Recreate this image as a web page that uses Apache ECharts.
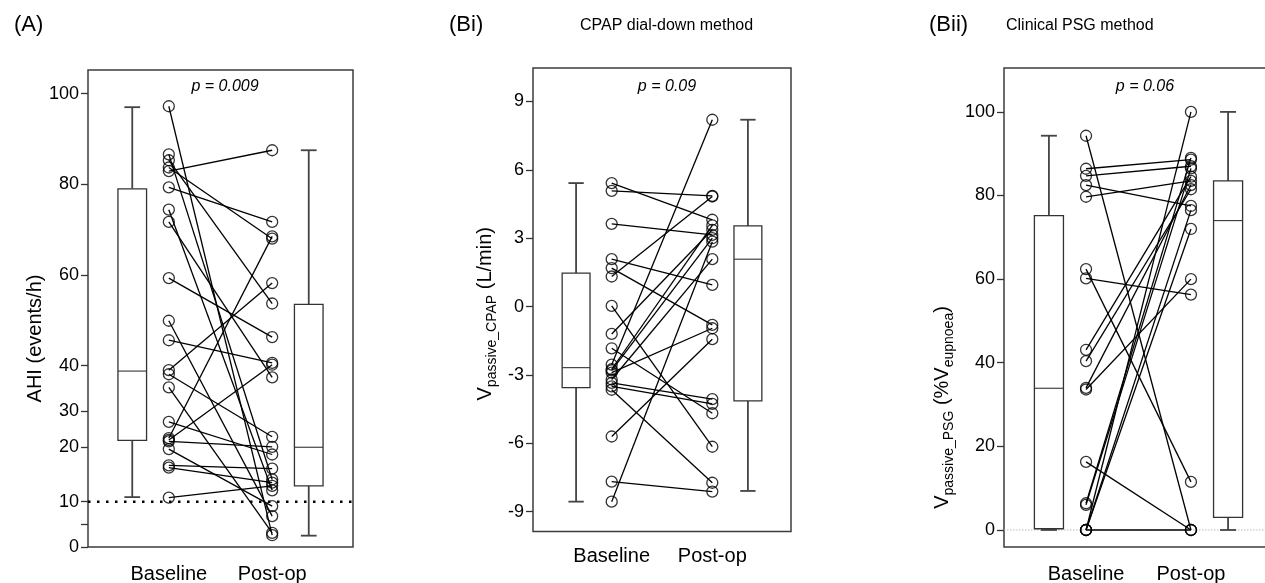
<!DOCTYPE html>
<html><head><meta charset="utf-8">
<script src="https://cdn.jsdelivr.net/npm/echarts@6/dist/echarts.min.js"></script>
<style>html,body{margin:0;padding:0;background:#fff}#c{width:1265px;height:583px}</style>
</head><body><div id="c"></div>
<script>
// ---------------- data ----------------
const categories = ['Baseline', 'Post-op'];

// Panel A: AHI (events/h), paired by index
const ahiBaseline = [97.2, 86.6, 85.3, 83.7, 82.9, 79.3, 74.4, 71.7, 59.3, 49.9, 45.6, 39.0, 38.1, 35.2, 27.6, 24.0, 23.6, 23.3, 21.6, 18.0, 17.5, 10.9];
const ahiPostop   = [2.6, 14.9, 53.7, 68.0, 87.5, 71.7, 12.5, 37.4, 46.3, 6.8, 40.6, 58.2, 24.3, 3.1, 20.4, 68.5, 40.2, 22.1, 9.0, 17.3, 14.2, 13.5];
// box: [min, Q1, median, Q3, max]
const ahiBoxBaseline = [11, 23.5, 38.8, 79, 97];
const ahiBoxPostop   = [2.5, 13.5, 22, 53.5, 87.5];
const ahiTickValues = [0, 5, 10, 22, 30, 40, 60, 80, 100];
const ahiTickLabels = ['0', '', '10', '20', '30', '40', '60', '80', '100'];
const ahiThreshold = 10;
const ahiP = 'p = 0.009';

// Panel Bi: V passive CPAP (L/min)
const cpapBaseline = [5.42, 5.08, 3.63, 2.08, 1.69, 1.32, 0.03, -1.2, -1.83, -2.55, -2.75, -2.8, -2.9, -3.2, -3.35, -3.5, -3.65, -5.7, -7.68, -8.56];
const cpapPostop   = [3.81, 4.86, 3.15, 0.95, -0.8, 4.83, -6.15, 3.37, -4.68, 8.2, 3.56, 3.0, -0.95, 2.08, -4.06, -4.27, -7.73, -1.43, -8.12, 2.85];
const cpapBoxBaseline = [-8.56, -3.56, -2.68, 1.47, 5.42];
const cpapBoxPostop   = [-8.09, -4.14, 2.08, 3.54, 8.2];
const cpapTicks = [-9, -6, -3, 0, 3, 6, 9];
const cpapP = 'p = 0.09';

// Panel Bii: V passive PSG (% V eupnoea)
const psgBaseline = [94.3, 86.4, 84.7, 82.5, 79.7, 62.4, 60.2, 43.1, 40.4, 34.0, 33.6, 16.3, 6.4, 6.0, 0, 0, 0, 0];
const psgPostop   = [0, 88.6, 87.0, 77.5, 83.5, 11.5, 56.3, 84.5, 81.5, 82.5, 60, 0, 89, 86.5, 100, 0, 76.5, 72];
const psgBoxBaseline = [0, 0.3, 33.9, 75.2, 94.3];
const psgBoxPostop   = [0, 3, 74, 83.5, 100];
const psgTicks = [0, 20, 40, 60, 80, 100];
const psgP = 'p = 0.06';

// ---------------- layout helpers ----------------
const FONT = '"Liberation Sans", Arial, sans-serif';
const BOX_X = [0.167, 0.833];
const PT_X = [0.305, 0.695];
const BOX_HALF = 0.054;
const INK = '#333';

const panels = [
  {left: 88, right: 1265 - 353, top: 70, bottom: 583 - 547, min: 0, max: 105.2,
   base: ahiBaseline, post: ahiPostop, boxes: [ahiBoxBaseline, ahiBoxPostop], labelMargin: 17},
  {left: 533, right: 1265 - 791, top: 68, bottom: 583 - 531.5, min: -9.87, max: 10.47,
   base: cpapBaseline, post: cpapPostop, boxes: [cpapBoxBaseline, cpapBoxPostop], labelMargin: 15},
  {left: 1004, right: -8, top: 68, bottom: 583 - 547, min: -4.07, max: 110.5,
   base: psgBaseline, post: psgPostop, boxes: [psgBoxBaseline, psgBoxPostop], labelMargin: 17}
];

const grids = panels.map(p => ({left: p.left, right: p.right, top: p.top, bottom: p.bottom,
  containLabel: false, outerBoundsMode: 'none',
  show: true, borderColor: '#3c3c3c', borderWidth: 1.5, backgroundColor: 'transparent'}));

const xAxes = panels.map((p, i) => ({
  type: 'value', gridIndex: i, min: 0, max: 1,
  axisLine: {show: false}, axisTick: {show: false}, splitLine: {show: false},
  axisLabel: {customValues: PT_X, formatter: v => categories[PT_X.indexOf(v)] || '',
    fontSize: 20, color: '#000', fontFamily: FONT, margin: p.labelMargin}
}));

const sub = {fontSize: 14, lineHeight: 14, verticalAlign: 'bottom', fontFamily: FONT, color: '#000'};
const big = {fontSize: 20, lineHeight: 28, fontFamily: FONT, color: '#000'};
const tickFont = {fontSize: 18, color: '#000', fontFamily: FONT, margin: 9};

const yCommon = {
  type: 'value', splitLine: {show: false},
  axisLine: {show: false},
  axisTick: {show: true, inside: false, length: 7, lineStyle: {color: INK, width: 1.3}},
  nameLocation: 'middle', nameRotate: 90
};
const yAxes = [
  Object.assign({}, yCommon, {gridIndex: 0, min: panels[0].min, max: panels[0].max,
    axisTick: Object.assign({}, yCommon.axisTick, {customValues: ahiTickValues}),
    axisLabel: Object.assign({customValues: ahiTickValues, formatter: v => ahiTickLabels[ahiTickValues.indexOf(v)]}, tickFont),
    name: 'AHI (events/h)', nameGap: 36,
    nameTextStyle: {fontSize: 20, fontFamily: FONT, color: '#000', padding: [0, 60, 0, 0]}}),
  Object.assign({}, yCommon, {gridIndex: 1, min: panels[1].min, max: panels[1].max,
    axisTick: Object.assign({}, yCommon.axisTick, {customValues: cpapTicks}),
    axisLabel: Object.assign({customValues: cpapTicks}, tickFont),
    name: '{b|V}{s|passive_CPAP}{b| (L/min)}', nameGap: 34,
    nameTextStyle: {rich: {b: big, s: sub}, padding: [0, 28, 0, 0]}}),
  Object.assign({}, yCommon, {gridIndex: 2, min: panels[2].min, max: panels[2].max,
    axisTick: Object.assign({}, yCommon.axisTick, {customValues: psgTicks}),
    axisLabel: Object.assign({customValues: psgTicks}, tickFont),
    name: '{b|V}{s|passive_PSG}{b| (%V}{s|eupnoea}{b|)}', nameGap: 48,
    nameTextStyle: {rich: {b: big, s: sub}, padding: [0, 200, 0, 0]}})
];

function boxRender(params, api) {
  const x = api.value(0);
  const c = v => api.coord([x, v]);
  const pMin = c(api.value(1)), pQ1 = c(api.value(2)), pMed = c(api.value(3)), pQ3 = c(api.value(4)), pMax = c(api.value(5));
  const l = api.coord([x - BOX_HALF, api.value(3)])[0];
  const r = api.coord([x + BOX_HALF, api.value(3)])[0];
  const cl = api.coord([x - BOX_HALF * 0.55, 0])[0];
  const cr = api.coord([x + BOX_HALF * 0.55, 0])[0];
  const ws = {stroke: '#444', lineWidth: 1.8, fill: null};
  return {type: 'group', children: [
    {type: 'line', shape: {x1: pMax[0], y1: pMax[1], x2: pQ3[0], y2: pQ3[1]}, style: ws},
    {type: 'line', shape: {x1: pMin[0], y1: pMin[1], x2: pQ1[0], y2: pQ1[1]}, style: ws},
    {type: 'line', shape: {x1: cl, y1: pMax[1], x2: cr, y2: pMax[1]}, style: ws},
    {type: 'line', shape: {x1: cl, y1: pMin[1], x2: cr, y2: pMin[1]}, style: ws},
    {type: 'rect', shape: {x: l, y: pQ3[1], width: r - l, height: pQ1[1] - pQ3[1]}, style: {stroke: INK, lineWidth: 1.3, fill: '#fff'}},
    {type: 'line', shape: {x1: l, y1: pMed[1], x2: r, y2: pMed[1]}, style: {stroke: INK, lineWidth: 1.1}}
  ]};
}
function pairRender(params, api) {
  const a = api.coord([PT_X[0], api.value(0)]);
  const b = api.coord([PT_X[1], api.value(1)]);
  return {type: 'line', shape: {x1: a[0], y1: a[1], x2: b[0], y2: b[1]}, style: {stroke: '#000', lineWidth: 1.3}};
}

const series = [];
panels.forEach((p, i) => {
  series.push({type: 'custom', xAxisIndex: i, yAxisIndex: i, z: 1, silent: true,
    data: p.boxes.map((b, k) => [BOX_X[k]].concat(b)), renderItem: boxRender});
  series.push({type: 'custom', xAxisIndex: i, yAxisIndex: i, z: 2, silent: true,
    data: p.base.map((v, k) => [v, p.post[k]]), renderItem: pairRender});
  series.push({type: 'scatter', xAxisIndex: i, yAxisIndex: i, z: 3, silent: true,
    symbol: 'circle', symbolSize: 11,
    itemStyle: {color: 'rgba(255,255,255,0)', borderColor: '#000', borderWidth: 1.3},
    data: p.base.map(v => [PT_X[0], v]).concat(p.post.map(v => [PT_X[1], v]))});
});
// reference lines
series.push({type: 'line', xAxisIndex: 0, yAxisIndex: 0, z: 4, silent: true, symbol: 'none',
  data: [[0, ahiThreshold], [1, ahiThreshold]],
  lineStyle: {color: '#000', width: 2.5, type: [2.5, 6.5], cap: 'butt'}});
series.push({type: 'line', xAxisIndex: 2, yAxisIndex: 2, z: 0, silent: true, symbol: 'none',
  data: [[0, 0], [1, 0]],
  lineStyle: {color: '#bbb', width: 1, type: [1.5, 1.5]}});

const titleStyle = {fontSize: 22, fontWeight: 'normal', fontFamily: FONT, color: '#000'};
const subTitleStyle = {fontSize: 16, fontWeight: 'normal', fontFamily: FONT, color: '#000'};
const pStyle = {fontSize: 16, fontWeight: 'normal', fontStyle: 'italic', fontFamily: FONT, color: '#000'};
const titles = [
  {text: '(A)', left: 9, top: 9, textStyle: titleStyle},
  {text: '(Bi)', left: 444, top: 9, textStyle: titleStyle},
  {text: '(Bii)', left: 924, top: 9, textStyle: titleStyle},
  {text: 'CPAP dial-down method', left: 575, top: 13, textStyle: subTitleStyle},
  {text: 'Clinical PSG method', left: 1001, top: 13, textStyle: subTitleStyle},
  {text: ahiP, left: 220, top: 74, textAlign: 'center', textStyle: pStyle},
  {text: cpapP, left: 662, top: 74, textAlign: 'center', textStyle: pStyle},
  {text: psgP, left: 1140, top: 74, textAlign: 'center', textStyle: pStyle}
];

const chart = echarts.init(document.getElementById('c'));
chart.setOption({
  animation: false, backgroundColor: '#fff',
  title: titles, grid: grids, xAxis: xAxes, yAxis: yAxes, series: series
});
</script></body></html>
